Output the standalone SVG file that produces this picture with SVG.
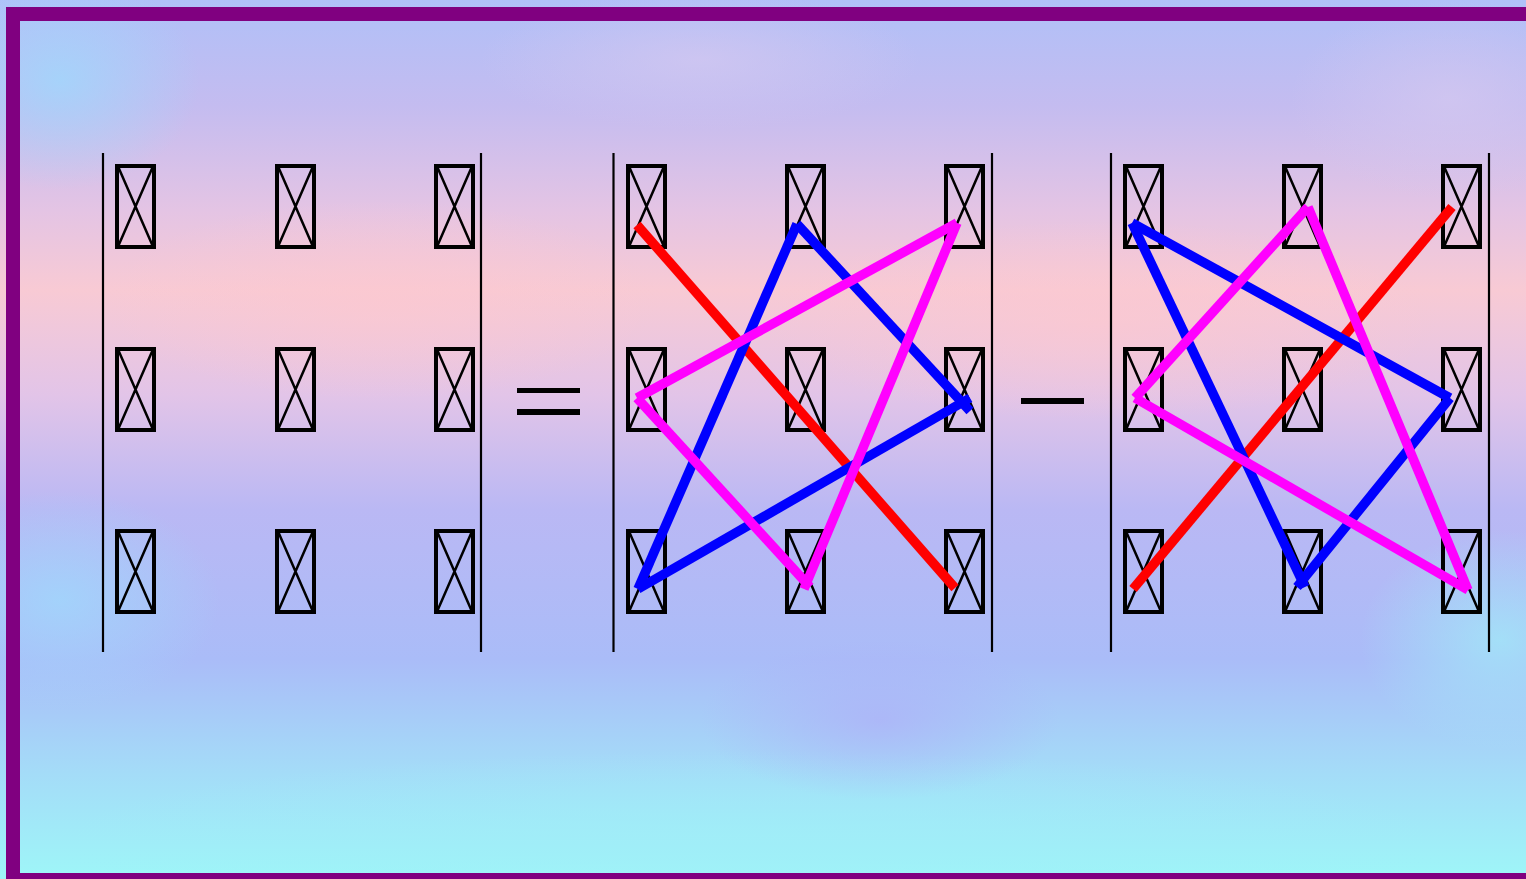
<svg xmlns="http://www.w3.org/2000/svg" xmlns:xlink="http://www.w3.org/1999/xlink" width="1526" height="879" viewBox="0 0 1526 879">
  <defs>
    <linearGradient id="bg" x1="0" y1="0" x2="0" y2="1">
      <stop offset="0" stop-color="#b0c0f8"/>
      <stop offset="0.12" stop-color="#c4bcf0"/>
      <stop offset="0.24" stop-color="#e4c4e4"/>
      <stop offset="0.33" stop-color="#f8cad4"/>
      <stop offset="0.45" stop-color="#e2c4e8"/>
      <stop offset="0.58" stop-color="#bab8f4"/>
      <stop offset="0.75" stop-color="#aabcf8"/>
      <stop offset="0.88" stop-color="#a4dcf8"/>
      <stop offset="1" stop-color="#9ef6f8"/>
    </linearGradient>
    <radialGradient id="gBlue"><stop offset="0" stop-color="#a0d8fc" stop-opacity="0.8"/><stop offset="1" stop-color="#a0d8fc" stop-opacity="0"/></radialGradient>
    <radialGradient id="gPink"><stop offset="0" stop-color="#fcc8d0" stop-opacity="0.7"/><stop offset="1" stop-color="#fcc8d0" stop-opacity="0"/></radialGradient>
    <radialGradient id="gLav"><stop offset="0" stop-color="#d4c8f0" stop-opacity="0.7"/><stop offset="1" stop-color="#d4c8f0" stop-opacity="0"/></radialGradient>
    <radialGradient id="gCyan"><stop offset="0" stop-color="#a0eef8" stop-opacity="0.7"/><stop offset="1" stop-color="#a0eef8" stop-opacity="0"/></radialGradient>
    <radialGradient id="gViolet"><stop offset="0" stop-color="#b0aaf8" stop-opacity="0.6"/><stop offset="1" stop-color="#b0aaf8" stop-opacity="0"/></radialGradient>
    <g id="tofu">
      <rect x="2" y="2" width="37" height="81" fill="none" stroke="#000" stroke-width="4"/>
      <path d="M3.5 3.5 L37.5 81.5 M37.5 3.5 L3.5 81.5" fill="none" stroke="#000" stroke-width="2.5"/>
    </g>
    <style>
      .bar { stroke: #000; stroke-width: 2.2; }
      .r { stroke: #ff0000; stroke-width: 9.5; stroke-linecap: butt; }
      .b { stroke: #0000ff; stroke-width: 9.5; stroke-linecap: butt; }
      .m { stroke: #ff00ff; stroke-width: 9.5; stroke-linecap: butt; }
    </style>
  </defs>

  <g id="background">
    <rect x="0" y="0" width="1526" height="879" fill="url(#bg)"/>
    <ellipse cx="60" cy="80" rx="140" ry="110" fill="url(#gBlue)"/>
    <ellipse cx="380" cy="300" rx="280" ry="100" fill="url(#gPink)"/>
    <ellipse cx="1100" cy="320" rx="340" ry="100" fill="url(#gPink)"/>
    <ellipse cx="700" cy="60" rx="220" ry="70" fill="url(#gLav)"/>
    <ellipse cx="1450" cy="100" rx="160" ry="100" fill="url(#gLav)"/>
    <ellipse cx="60" cy="600" rx="160" ry="110" fill="url(#gBlue)"/>
    <ellipse cx="1500" cy="640" rx="140" ry="110" fill="url(#gCyan)"/>
    <ellipse cx="750" cy="840" rx="700" ry="90" fill="url(#gCyan)"/>
    <ellipse cx="880" cy="720" rx="180" ry="80" fill="url(#gViolet)"/>
  </g>

  <g id="frame">
    <rect x="13" y="14" width="1600" height="866" fill="none" stroke="#800080" stroke-width="14"/>
  </g>

  <g id="matrix-left">
    <line class="bar" x1="103" y1="153" x2="103" y2="652"/>
    <line class="bar" x1="481" y1="153" x2="481" y2="652"/>
    <use xlink:href="#tofu" x="115" y="164"/>
    <use xlink:href="#tofu" x="275" y="164"/>
    <use xlink:href="#tofu" x="434" y="164"/>
    <use xlink:href="#tofu" x="115" y="347"/>
    <use xlink:href="#tofu" x="275" y="347"/>
    <use xlink:href="#tofu" x="434" y="347"/>
    <use xlink:href="#tofu" x="115" y="529"/>
    <use xlink:href="#tofu" x="275" y="529"/>
    <use xlink:href="#tofu" x="434" y="529"/>
  </g>

  <g id="equals">
    <rect x="517" y="388" width="63" height="5" fill="#000"/>
    <rect x="517" y="409" width="63" height="6" fill="#000"/>
  </g>

  <g id="matrix-middle">
    <line class="bar" x1="613.5" y1="153" x2="613.5" y2="652"/>
    <line class="bar" x1="992" y1="153" x2="992" y2="652"/>
    <use xlink:href="#tofu" x="626" y="164"/>
    <use xlink:href="#tofu" x="785" y="164"/>
    <use xlink:href="#tofu" x="944" y="164"/>
    <use xlink:href="#tofu" x="626" y="347"/>
    <use xlink:href="#tofu" x="785" y="347"/>
    <use xlink:href="#tofu" x="944" y="347"/>
    <use xlink:href="#tofu" x="626" y="529"/>
    <use xlink:href="#tofu" x="785" y="529"/>
    <use xlink:href="#tofu" x="944" y="529"/>
  </g>

  <g id="minus">
    <rect x="1021" y="398" width="63" height="6" fill="#000"/>
  </g>

  <g id="matrix-right">
    <line class="bar" x1="1111" y1="153" x2="1111" y2="652"/>
    <line class="bar" x1="1489" y1="153" x2="1489" y2="652"/>
    <use xlink:href="#tofu" x="1123" y="164"/>
    <use xlink:href="#tofu" x="1282" y="164"/>
    <use xlink:href="#tofu" x="1441" y="164"/>
    <use xlink:href="#tofu" x="1123" y="347"/>
    <use xlink:href="#tofu" x="1282" y="347"/>
    <use xlink:href="#tofu" x="1441" y="347"/>
    <use xlink:href="#tofu" x="1123" y="529"/>
    <use xlink:href="#tofu" x="1282" y="529"/>
    <use xlink:href="#tofu" x="1441" y="529"/>
  </g>

  <g id="connectors">
    <!-- middle: positive terms -->
    <line class="r" x1="637" y1="225" x2="955" y2="588"/>
    <line class="b" x1="797" y1="224" x2="970" y2="411"/>
    <line class="b" x1="970" y1="398" x2="638" y2="589"/>
    <line class="b" x1="638" y1="589" x2="797" y2="224"/>
    <line class="m" x1="957" y1="223" x2="804" y2="589"/>
    <line class="m" x1="810" y1="587" x2="637" y2="398"/>
    <line class="m" x1="637" y1="398" x2="957" y2="223"/>
    <!-- right: negative terms -->
    <line class="r" x1="1133" y1="589" x2="1452" y2="207"/>
    <line class="b" x1="1132" y1="223" x2="1450" y2="398"/>
    <line class="b" x1="1450" y1="398" x2="1297" y2="587"/>
    <line class="b" x1="1305" y1="587" x2="1132" y2="223"/>
    <line class="m" x1="1308" y1="207" x2="1468" y2="590"/>
    <line class="m" x1="1468" y1="590" x2="1135" y2="398"/>
    <line class="m" x1="1135" y1="398" x2="1308" y2="207"/>
  </g>
</svg>
